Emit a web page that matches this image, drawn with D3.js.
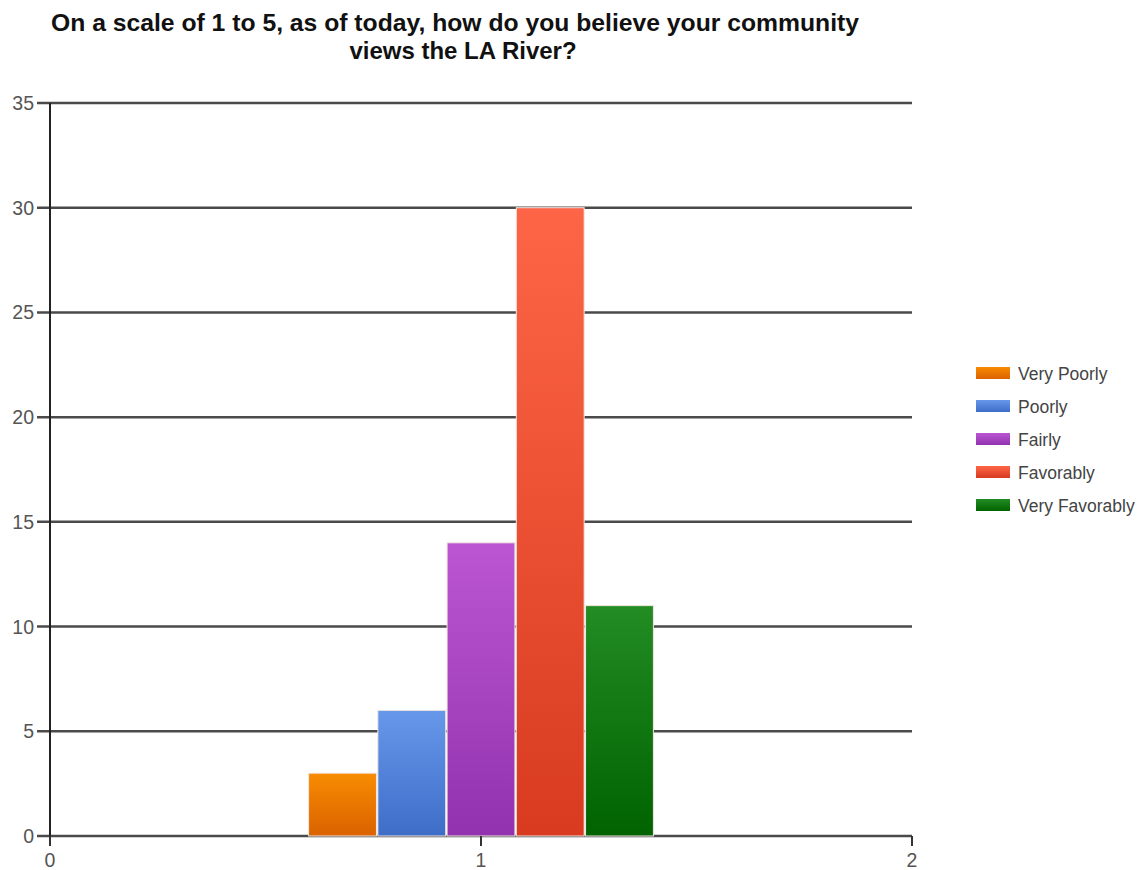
<!DOCTYPE html>
<html>
<head>
<meta charset="utf-8">
<script src="https://cdn.jsdelivr.net/npm/d3@7/dist/d3.min.js"></script>
<style>
  html, body { margin: 0; padding: 0; background: #fff; }
  svg { display: block; }
</style>
</head>
<body>
<svg id="chart" width="1142" height="870"></svg>
<script>
// Survey responses: "how do you believe your community views the LA River?"
const categories = ["Very Poorly", "Poorly", "Fairly", "Favorably", "Very Favorably"];
const counts = [3, 6, 14, 30, 11];
const colorsTop = ["#f88c02", "#6698ea", "#bc56d2", "#fe6546", "#238c23"];
const colorsBottom = ["#da6200", "#3e6dc8", "#9232ae", "#d83b20", "#006300"];
const yTicks = [0, 5, 10, 15, 20, 25, 30, 35];
const xTicks = [0, 1, 2];
const groupPosition = 1;

const svg = d3.select("#chart");
const margin = { left: 50, right: 230, top: 103, bottom: 34 };
const W = 1142, H = 870;
const font = "'Liberation Sans', Arial, sans-serif";

const x = d3.scaleLinear().domain([0, 2]).range([margin.left, W - margin.right]);
const y = d3.scaleLinear().domain([0, 35]).range([H - margin.bottom, margin.top]);
const band = d3.scaleBand().domain(categories)
  .range([x(groupPosition - 0.4), x(groupPosition + 0.4)]).paddingInner(0.02);

// Title
const title = svg.append("text")
  .attr("text-anchor", "middle")
  .style("font-family", font)
  .style("font-weight", "bold").style("font-size", "24px").attr("fill", "#111");
title.append("tspan").attr("x", 455).attr("y", 31)
  .attr("textLength", 808).attr("lengthAdjust", "spacingAndGlyphs")
  .text("On a scale of 1 to 5, as of today, how do you believe your community");
title.append("tspan").attr("x", 463).attr("y", 59).text("views the LA River?");

// Gradients
const defs = svg.append("defs");
categories.forEach((c, i) => {
  const g = defs.append("linearGradient").attr("id", "grad" + i)
    .attr("x1", 0).attr("y1", 0).attr("x2", 0).attr("y2", 1);
  g.append("stop").attr("offset", "0%").attr("stop-color", colorsTop[i]);
  g.append("stop").attr("offset", "100%").attr("stop-color", colorsBottom[i]);
});

// Horizontal gridlines
svg.append("g").selectAll("line").data(yTicks).join("line")
  .attr("x1", x(0) - 13).attr("x2", x(2))
  .attr("y1", d => y(d)).attr("y2", d => y(d))
  .attr("stroke", "#4a4a4a").attr("stroke-width", 2.5);

// Y axis tick labels
svg.append("g").selectAll("text").data(yTicks).join("text")
  .attr("x", x(0) - 16).attr("y", d => y(d) + 7)
  .attr("text-anchor", "end")
  .style("font-family", font)
  .style("font-size", "19.5px").attr("fill", "#555")
  .text(d => d);

// Bars
svg.append("g").selectAll("rect").data(counts).join("rect")
  .attr("x", (d, i) => band(categories[i]))
  .attr("width", band.bandwidth())
  .attr("y", d => y(d))
  .attr("height", d => y(0) - y(d))
  .attr("fill", (d, i) => `url(#grad${i})`)
  .attr("stroke", "#f3e6e2").attr("stroke-width", 1);

// Vertical axis line
svg.append("line")
  .attr("x1", x(0)).attr("x2", x(0))
  .attr("y1", y(35)).attr("y2", y(0) + 10)
  .attr("stroke", "#222").attr("stroke-width", 2);

// X axis ticks and labels
svg.append("g").selectAll("line").data(xTicks).join("line")
  .attr("x1", d => x(d)).attr("x2", d => x(d))
  .attr("y1", y(0)).attr("y2", y(0) + 10)
  .attr("stroke", "#333").attr("stroke-width", 2);
svg.append("g").selectAll("text").data(xTicks).join("text")
  .attr("x", d => x(d)).attr("y", y(0) + 31)
  .attr("text-anchor", "middle")
  .style("font-family", font)
  .style("font-size", "19.5px").attr("fill", "#555")
  .text(d => d);

// Legend
const legend = svg.append("g").attr("transform", "translate(976,367)");
const rows = legend.selectAll("g").data(categories).join("g")
  .attr("transform", (d, i) => `translate(0,${i * 33})`);
rows.append("rect").attr("width", 34).attr("height", 12)
  .attr("fill", (d, i) => `url(#grad${i})`);
rows.append("text").attr("x", 42).attr("y", 13)
  .style("font-family", font)
  .style("font-size", "17.5px").attr("fill", "#444")
  .text(d => d);
</script>
</body>
</html>
